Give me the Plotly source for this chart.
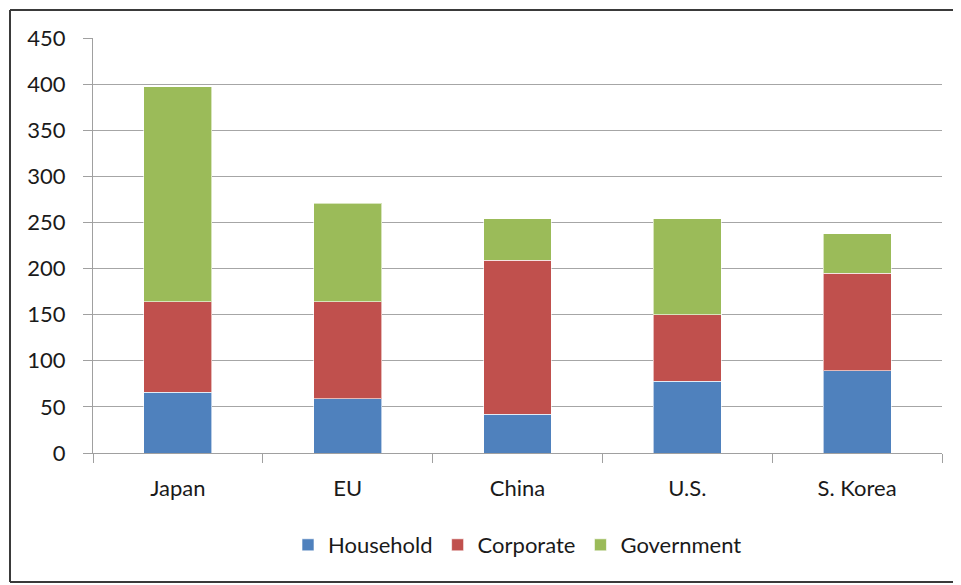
import plotly.graph_objects as go

categories = ["Japan", "EU", "China", "U.S.", "S. Korea"]
household = [66, 59, 42, 78, 89]
corporate = [98, 105, 167, 72, 106]
government = [233, 107, 45, 104, 43]
y_ticks = [0, 50, 100, 150, 200, 250, 300, 350, 400, 450]

FONT = "Lato, 'Open Sans', sans-serif"
colors = {"Household": "#4F81BD", "Corporate": "#C0504D", "Government": "#9BBB59"}

fig = go.Figure()
for name, vals in [("Household", household), ("Corporate", corporate), ("Government", government)]:
    fig.add_trace(go.Bar(
        x=categories, y=vals, name=name,
        marker=dict(color=colors[name], line=dict(color="rgba(255,255,255,0.6)", width=1)),
    ))

OFF = 8  # page body margin
W, H = 961 - OFF, 585 - OFF
L, T = 93 - OFF, 38 - OFF
pw, ph = 849, 415
R = W - L - pw
B = H - T - ph

def px_x(x):
    return (x - OFF - L) / pw

def px_y(y):
    return (T + ph - (y - OFF)) / ph

frame = dict(color="#3a3a3a", width=2)
fx0, fx1, fy0, fy1 = px_x(10), px_x(990), px_y(582), px_y(10)

fig.update_layout(
    width=W, height=H,
    barmode="stack", bargap=0.6,
    margin=dict(l=L, r=R, t=T, b=B, autoexpand=False),
    paper_bgcolor="white", plot_bgcolor="white",
    font=dict(family=FONT, size=22, color="#1a1a1a"),
    showlegend=True,
    legend=dict(
        orientation="h", x=0.5, xanchor="center",
        y=px_y(545), yanchor="middle",
        font=dict(size=22, family=FONT, color="#1a1a1a"),
        traceorder="normal", itemwidth=30,
    ),
    xaxis=dict(
        showgrid=False, showline=True, linecolor="#A0A0A0", linewidth=1,
        ticks="outside", tickson="boundaries", ticklen=9, tickcolor="#A0A0A0",
        tickfont=dict(size=22, family=FONT, color="#1a1a1a"),
        ticklabelstandoff=16,
    ),
    yaxis=dict(
        range=[0, 450], tickvals=y_ticks,
        showgrid=True, gridcolor="#A6A6A6", gridwidth=1,
        showline=True, linecolor="#A0A0A0", linewidth=1,
        ticks="outside", ticklen=9, tickcolor="#A0A0A0",
        tickfont=dict(size=22, family=FONT, color="#1a1a1a"),
        ticklabelstandoff=13,
        zeroline=False,
    ),
    shapes=[
        dict(type="line", xref="paper", yref="paper", x0=fx0, x1=fx1, y0=fy1, y1=fy1, line=frame, layer="above"),
        dict(type="line", xref="paper", yref="paper", x0=fx0, x1=fx1, y0=fy0, y1=fy0, line=frame, layer="above"),
        dict(type="line", xref="paper", yref="paper", x0=fx0, x1=fx0, y0=fy0, y1=fy1, line=frame, layer="above"),
    ],
)

fig.write_html("out.html")
